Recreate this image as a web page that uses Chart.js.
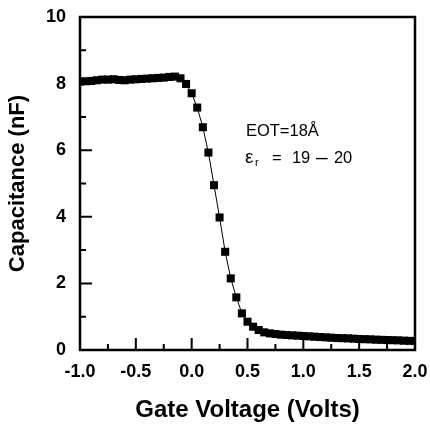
<!DOCTYPE html>
<html>
<head>
<meta charset="utf-8">
<script src="https://cdn.jsdelivr.net/npm/chart.js@4/dist/chart.umd.min.js"></script>
<style>
  html, body { margin: 0; padding: 0; background: #fff; }
  #cv { display: block; }
</style>
</head>
<body>
<canvas id="cv" width="430" height="430"></canvas>
<script>
  // C-V sweep
  var gateVoltage = [
    -1.00, -0.95, -0.90, -0.85, -0.80, -0.75, -0.70, -0.65, -0.60, -0.55,
    -0.50, -0.45, -0.40, -0.35, -0.30, -0.25, -0.20, -0.15, -0.10, -0.05,
     0.00,  0.05,  0.10,  0.15,  0.20,  0.25,  0.30,  0.35,  0.40,  0.45,
     0.50,  0.55,  0.60,  0.65,  0.70,  0.75,  0.80,  0.85,  0.90,  0.95,
     1.00,  1.05,  1.10,  1.15,  1.20,  1.25,  1.30,  1.35,  1.40,  1.45,
     1.50,  1.55,  1.60,  1.65,  1.70,  1.75,  1.80,  1.85,  1.90,  1.95,
     2.00
  ];
  var capacitance = [
    8.06, 8.07, 8.08, 8.10, 8.12, 8.12, 8.13, 8.11, 8.10, 8.12,
    8.13, 8.14, 8.15, 8.16, 8.17, 8.18, 8.20, 8.21, 8.16, 7.99,
    7.71, 7.28, 6.69, 5.93, 4.95, 3.98, 2.95, 2.15, 1.58, 1.10,
    0.85, 0.70, 0.60, 0.53, 0.50, 0.48, 0.46, 0.45, 0.44, 0.43,
    0.42, 0.41, 0.40, 0.39, 0.38, 0.37, 0.36, 0.355, 0.35, 0.34,
    0.33, 0.325, 0.32, 0.31, 0.305, 0.30, 0.295, 0.29, 0.28, 0.275,
    0.27
  ];

  // axis ticks (labelled majors + small inward minors)
  var xMajorTicks = [-1.0, -0.5, 0.0, 0.5, 1.0, 1.5, 2.0];
  var xMinorTicks = [-0.75, -0.25, 0.25, 0.75, 1.25, 1.75];
  var yMajorTicks = [0, 2, 4, 6, 8, 10];
  var yMinorTicks = [1, 3, 5, 7, 9];

  var FONT = "'Liberation Sans', Arial, Helvetica, sans-serif";

  // inward tick marks + closed frame, like the original plot
  var frameTicks = {
    id: 'frameTicks',
    afterDatasetsDraw: function (chart) {
      var ctx = chart.ctx, a = chart.chartArea;
      var xs = chart.scales.x, ys = chart.scales.y;
      ctx.save();
      ctx.strokeStyle = '#000';
      ctx.lineWidth = 2;
      ctx.beginPath();
      xMajorTicks.forEach(function (v) {
        var p = xs.getPixelForValue(v);
        ctx.moveTo(p, a.bottom); ctx.lineTo(p, a.bottom - 12);
      });
      xMinorTicks.forEach(function (v) {
        var p = xs.getPixelForValue(v);
        ctx.moveTo(p, a.bottom); ctx.lineTo(p, a.bottom - 6);
      });
      yMajorTicks.forEach(function (v) {
        var p = ys.getPixelForValue(v);
        ctx.moveTo(a.left, p); ctx.lineTo(a.left + 12, p);
      });
      yMinorTicks.forEach(function (v) {
        var p = ys.getPixelForValue(v);
        ctx.moveTo(a.left, p); ctx.lineTo(a.left + 6, p);
      });
      ctx.stroke();
      ctx.lineWidth = 2.5;
      ctx.strokeRect(a.left, a.top, a.right - a.left, a.bottom - a.top);
      ctx.restore();
    }
  };

  // "EOT=18Å" and "εr = 19 – 20" note, anchored in data space
  var note = {
    id: 'note',
    afterDraw: function (chart) {
      var ctx = chart.ctx;
      var x0 = chart.scales.x.getPixelForValue(0.486);
      var y1 = chart.scales.y.getPixelForValue(6.57);
      var y2 = chart.scales.y.getPixelForValue(5.76);
      ctx.save();
      ctx.fillStyle = '#000';
      ctx.textBaseline = 'middle';
      ctx.textAlign = 'left';
      ctx.font = '16.5px ' + FONT;
      ctx.fillText('EOT=18Å', x0, y1);
      ctx.font = '19px ' + FONT;
      ctx.fillText('ε', x0 - 1, y2);
      ctx.font = '11px ' + FONT;
      ctx.fillText('r', x0 + 9, y2 + 5);
      ctx.font = '16.5px ' + FONT;
      ctx.fillText('=', x0 + 26, y2);
      ctx.fillText('19', x0 + 46, y2);
      ctx.fillText('20', x0 + 88, y2);
      ctx.font = '21px ' + FONT;
      ctx.fillText('–', x0 + 70, y2);
      ctx.restore();
    }
  };

  function noOverflowPad(s) {
    s.paddingTop = 0; s.paddingBottom = 0;
    s.paddingLeft = 0; s.paddingRight = 0;
  }

  new Chart(document.getElementById('cv').getContext('2d'), {
    type: 'line',
    data: {
      datasets: [{
        data: gateVoltage.map(function (v, i) { return { x: v, y: capacitance[i] }; }),
        borderColor: '#000',
        borderWidth: 1,
        backgroundColor: '#000',
        pointStyle: 'rect',
        pointRadius: 5.7,
        pointBorderWidth: 0,
        pointBackgroundColor: '#000',
        tension: 0,
        fill: false
      }]
    },
    options: {
      responsive: false,
      animation: false,
      events: [],
      layout: { padding: { left: 0, right: 15, top: 17, bottom: 0 } },
      plugins: { legend: { display: false }, tooltip: { enabled: false } },
      scales: {
        x: {
          type: 'linear',
          min: -1, max: 2,
          afterBuildTicks: function (axis) {
            axis.ticks = xMajorTicks.map(function (v) { return { value: v }; });
          },
          afterFit: function (s) { s.height = 80; noOverflowPad(s); },
          grid: { display: false, drawTicks: false },
          border: { display: false },
          ticks: {
            padding: 11,
            color: '#000',
            maxRotation: 0,
            autoSkip: false,
            font: { family: FONT, size: 18, weight: 'bold' },
            callback: function (v) { return Number(v).toFixed(1); }
          },
          title: {
            display: true,
            text: 'Gate Voltage (Volts)',
            color: '#000',
            font: { family: FONT, size: 24, weight: 'bold' },
            padding: { top: 0, bottom: 5 }
          }
        },
        y: {
          min: 0, max: 10,
          afterBuildTicks: function (axis) {
            axis.ticks = yMajorTicks.map(function (v) { return { value: v }; });
          },
          afterFit: function (s) { s.width = 80; noOverflowPad(s); },
          grid: { display: false, drawTicks: false },
          border: { display: false },
          ticks: {
            padding: 14,
            color: '#000',
            font: { family: FONT, size: 18, weight: 'bold' }
          },
          title: {
            display: true,
            text: 'Capacitance (nF)',
            color: '#000',
            font: { family: FONT, size: 22, weight: 'bold' },
            padding: { top: 5, bottom: 5 }
          }
        }
      }
    },
    plugins: [frameTicks, note]
  });
</script>
</body>
</html>
